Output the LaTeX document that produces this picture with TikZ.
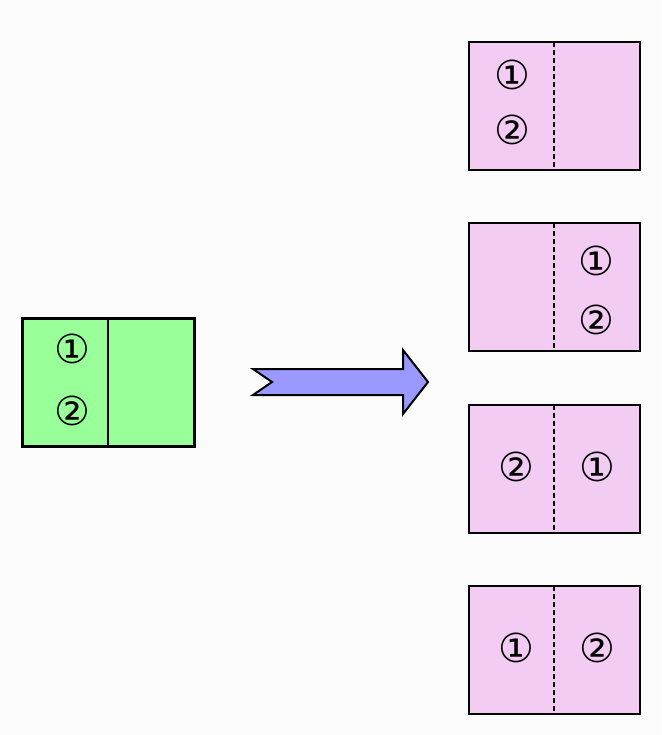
\documentclass[tikz,border=0pt]{standalone}
\usepackage{fontspec}
\newfontfamily\circfont{DejaVu Sans}
\definecolor{bgc}{RGB}{252,252,252}
\definecolor{greenf}{RGB}{153,255,153}
\definecolor{pinkf}{RGB}{242,204,242}
\definecolor{bluef}{RGB}{153,153,255}
\begin{document}
\begin{tikzpicture}[x=1pt,y=-1pt,
  num/.style={font=\circfont\fontsize{40}{40}\selectfont, inner sep=0pt},
  greenbox/.style={draw=black, fill=greenf, line width=3pt},
  pinkbox/.style={draw=black, fill=pinkf, line width=2pt},
  fold/.style={draw=black, line width=2.2pt, dash pattern=on 5pt off 3pt},
  solidfold/.style={draw=black, line width=2pt},
  bigarrow/.style={draw=black, fill=bluef, line width=2pt, line join=miter}]
\fill[bgc] (0,0) rectangle (661,735);
\useasboundingbox (0,0) rectangle (661,735);
% source sheet
\path[greenbox] (22,318) rectangle (194,446);
\draw[solidfold] (108,318) -- (108,446);
\node[num] (g1) at (72,349) {①};
\node[num] (g2) at (72,411) {②};
% arrow
\path[bigarrow] (253,369) -- (403,369) -- (403,350) -- (428,382) -- (403,414) -- (403,395) -- (253,395) -- (272,382) -- cycle;
% results
\foreach \y in {42,223,405,586}{
  \path[pinkbox] (469,\y) rectangle (640,\y+128);
  \draw[fold] (554,\y) -- (554,\y+128);
}
\node[num] (a1) at (512,75) {①};
\node[num] (a2) at (512,130) {②};
\node[num] (b1) at (596,261) {①};
\node[num] (b2) at (596,320) {②};
\node[num] (c2) at (516,467) {②};
\node[num] (c1) at (597,467) {①};
\node[num] (d1) at (516,648) {①};
\node[num] (d2) at (597,648) {②};
\end{tikzpicture}
\end{document}
